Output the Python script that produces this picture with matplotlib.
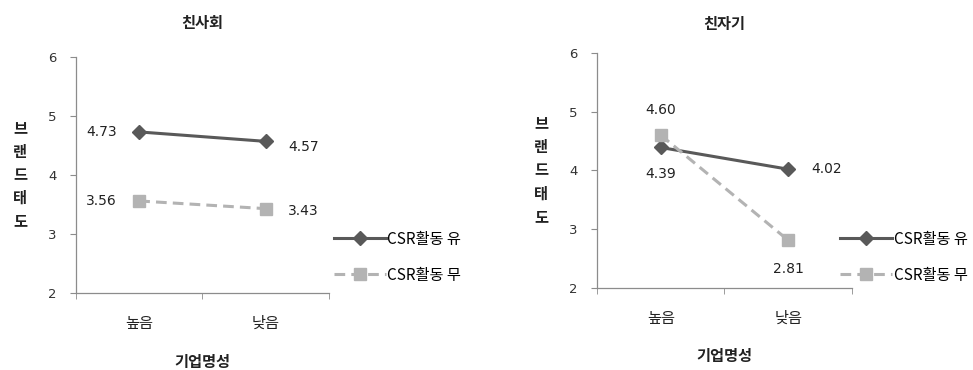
import matplotlib
matplotlib.use("Agg")
from matplotlib import pyplot as plt

plt.rcParams['font.family'] = ['Noto Sans CJK KR', 'DejaVu Sans']

categories = ['높음', '낮음']
series_names = ['CSR활동 유', 'CSR활동 무']
titles = ['친사회', '친자기']

# values per panel: [유, 무]
social_yes = [4.73, 4.57]
social_no = [3.56, 3.43]
self_yes = [4.39, 4.02]
self_no = [4.60, 2.81]

yticks = [2, 3, 4, 5, 6]

dark = '#595959'
light = '#b3b3b3'
axis_col = '#8c8c8c'

fig = plt.figure(figsize=(9.73, 3.70), dpi=100)
ax1 = fig.add_axes([0.0781, 0.208, 0.260, 0.638])
ax2 = fig.add_axes([0.6136, 0.222, 0.262, 0.635])


def fmt(v):
    return "%.2f" % v


def panel(ax, title, yes, no, offsets_yes, offsets_no, leg_x, leg_y, tpad, xlpad):
    x = list(range(len(categories)))
    ax.plot(x, yes, color=dark, lw=2.2, marker='D', ms=7, label=series_names[0])
    ax.plot(x, no, color=light, lw=2.2, ls=(0, (3.5, 2)), marker='s', ms=9,
            label=series_names[1])
    for i in x:
        ax.annotate(fmt(yes[i]), (i, yes[i]), xytext=offsets_yes[i],
                    textcoords='offset points', ha='center', va='center',
                    fontsize=10, color='#222222', family=['DejaVu Sans'])
        ax.annotate(fmt(no[i]), (i, no[i]), xytext=offsets_no[i],
                    textcoords='offset points', ha='center', va='center',
                    fontsize=10, color='#222222', family=['DejaVu Sans'])
    ax.set_xlim(-0.5, 1.5)
    ax.set_ylim(2, 6)
    ax.set_yticks(yticks)
    ax.set_yticklabels([str(t) for t in yticks], fontsize=9.5, color='#333333',
                       family=['DejaVu Sans'])
    ax.set_xticks([0, 1])
    ax.set_xticklabels(categories, fontsize=11, color='#222222')
    ax.set_xticks([-0.5, 0.5, 1.5], minor=True)
    ax.tick_params(axis='x', which='major', length=0, pad=16)
    ax.tick_params(axis='x', which='minor', length=4, direction='out', color=axis_col)
    ax.tick_params(axis='y', length=4, direction='out', color=axis_col, pad=10)
    for s in ['top', 'right']:
        ax.spines[s].set_visible(False)
    for s in ['left', 'bottom']:
        ax.spines[s].set_color(axis_col)
        ax.spines[s].set_linewidth(0.9)
    ax.set_title(title, fontsize=11, fontweight='bold', pad=tpad, color='#222222')
    ax.set_xlabel('기업명성', fontsize=11, fontweight='bold', labelpad=xlpad,
                  color='#222222')
    ax.set_ylabel('브\n랜\n드\n태\n도', rotation=0, fontsize=11, fontweight='bold',
                  va='center', labelpad=20, color='#222222', linespacing=1.55)
    ax.legend(loc='upper left', bbox_to_anchor=(leg_x, leg_y), frameon=False,
              handlelength=3.4, handletextpad=0.1, labelspacing=1.25, fontsize=11,
              borderaxespad=0)


panel(ax1, titles[0], social_yes, social_no,
      [(-27, 0), (27, -4)], [(-27, 0), (27, -2)], 0.995, 0.29, 21, 16)
panel(ax2, titles[1], self_yes, self_no,
      [(0, -19), (28, 0)], [(0, 18), (0, -21)], 0.93, 0.27, 17, 15)

fig.savefig('out.png', dpi=100)
